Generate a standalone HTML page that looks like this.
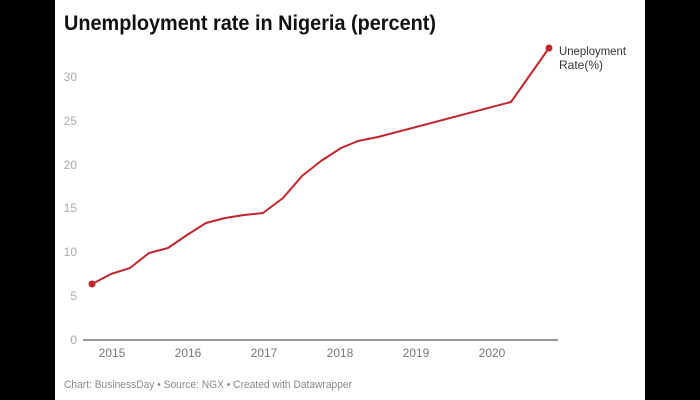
<!DOCTYPE html>
<html><head><style>
body{margin:0;width:700px;height:400px;background:#000;overflow:hidden;font-family:"Liberation Sans",sans-serif;}
</style></head><body>
<svg width="700" height="400" style="position:absolute;left:0;top:0">
<rect x="55" y="0" width="590" height="400" fill="#fff"/>
<text x="64" y="30" font-size="21" font-weight="bold" fill="#111" textLength="372" lengthAdjust="spacingAndGlyphs">Unemployment rate in Nigeria (percent)</text>
<g font-size="12" fill="#aaa">
<text x="77" y="81" text-anchor="end">30</text>
<text x="77" y="125" text-anchor="end">25</text>
<text x="77" y="169" text-anchor="end">20</text>
<text x="77" y="212" text-anchor="end">15</text>
<text x="77" y="256" text-anchor="end">10</text>
<text x="77" y="300" text-anchor="end">5</text>
<text x="77" y="344" text-anchor="end">0</text>
</g>
<line x1="83" y1="340" x2="558" y2="340" stroke="#777" stroke-width="1.5"/>
<g font-size="12" fill="#777" text-anchor="middle">
<text x="112" y="357">2015</text><text x="188" y="357">2016</text><text x="264" y="357">2017</text>
<text x="340" y="357">2018</text><text x="416" y="357">2019</text><text x="492" y="357">2020</text>
</g>
<polyline fill="none" stroke="#c0262d" stroke-width="2" stroke-linejoin="round" points="92,284 111,274 130,268 149,253 168,248 187,235 206,223 225,218 244,215 263,213 283,198 302,176 321,161 341,148 358,141 378,137 511,102 549,48"/>
<circle cx="92" cy="284" r="3.5" fill="#c0262d"/>
<circle cx="549" cy="48" r="3.5" fill="#c0262d"/>
<text x="559" y="55" font-size="12" fill="#333" textLength="67" lengthAdjust="spacingAndGlyphs">Uneployment</text>
<text x="559" y="69" font-size="12" fill="#333">Rate(%)</text>
<text x="64" y="388" font-size="11" fill="#888" textLength="288" lengthAdjust="spacingAndGlyphs">Chart: BusinessDay • Source: NGX • Created with Datawrapper</text>
</svg>
</body></html>
